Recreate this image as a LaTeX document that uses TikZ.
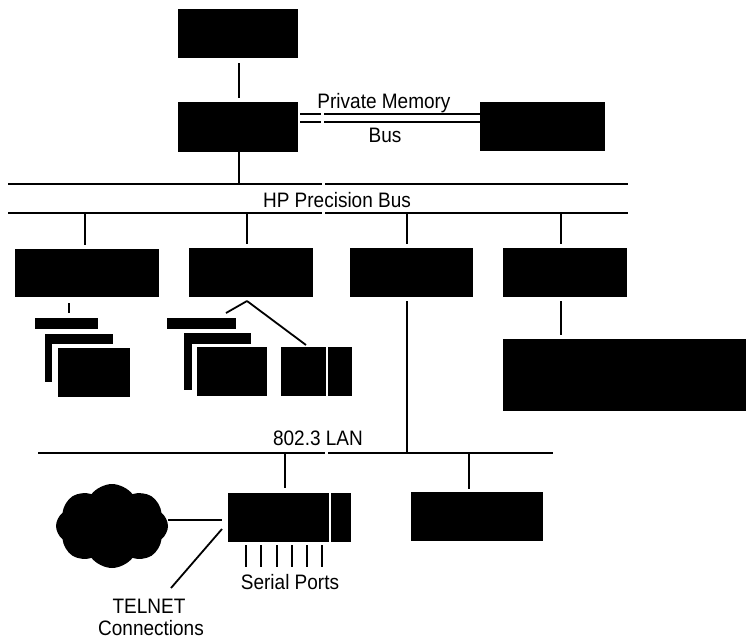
\documentclass[tikz,border=0pt]{standalone}
\usepackage{fontspec}
\setmainfont{Liberation Sans}
\usetikzlibrary{shapes.symbols}
\newcommand{\mybox}[5]{\node[blk, minimum width={#4-#2}, minimum height={#5-#3}] (#1) at ({(#2+#4)/2},{(#3+#5)/2}) {};}
\newcommand{\tl}[1]{\scalebox{1}[1.1]{#1}}
\begin{document}
\begin{tikzpicture}[x=1pt,y=-1pt,
  blk/.style={fill=black, draw=none, inner sep=0pt, outer sep=0pt},
  wire/.style={line width=1.8pt},
  busline/.style={line width=2.6pt},
  lbl/.style={font=\fontsize{19}{21}\selectfont, inner sep=0pt, anchor=base}]
\useasboundingbox (0,0) rectangle (746,638);
% top boxes
\mybox{top}{178}{9}{298}{58}
\mybox{cpu}{178}{102}{298}{152}
\mybox{mem}{480}{102}{605}{151}
% row boxes
\mybox{A}{15}{249}{159}{297}
\mybox{B}{189}{248}{313}{297}
\mybox{C}{350}{248}{473}{297}
\mybox{D}{503}{248}{627}{297}
\mybox{big}{503}{339}{746}{411}
% stack under A
\mybox{Aa}{35}{318}{98}{329}
\mybox{Ab}{45}{334}{113}{344}
\mybox{Abl}{45}{344}{52}{382}
\mybox{Ac}{58}{348}{130}{397}
% stack under B
\mybox{Ba}{167}{318}{236}{329}
\mybox{Bb}{184}{333}{251}{344}
\mybox{Bbl}{184}{344}{192}{390}
\mybox{Bc}{197}{347}{267}{396}
\mybox{Bd}{281}{347}{352}{396}
\draw[white, line width=1.5pt] (327,347) -- (327,396);
% lower boxes
\mybox{E}{228}{493}{351}{542}
\draw[white, line width=1.5pt] (330,493) -- (330,542);
\mybox{F}{411}{492}{543}{541}
\node[cloud, cloud puffs=8, cloud puff arc=105, aspect=1.3, fill=black, draw=none,
  minimum width=112, minimum height=84, inner sep=0pt] (net) at (112,526) {};
% coordinates for buses
\coordinate (hb1) at (8,184);   \coordinate (hb2) at (628,184);
\coordinate (lb1) at (8,213);   \coordinate (lb2) at (628,213);
\coordinate (lan1) at (38,453); \coordinate (lan2) at (553,453);
% buses (with paste-up seams)
\draw[busline] (hb1) -- (322,184);  \draw[busline] (325,184) -- (hb2);
\draw[busline] (lb1) -- (322,213);  \draw[busline] (325,213) -- (lb2);
\draw[busline] (lan1) -- (325,453); \draw[busline] (328,453) -- (lan2);
% private memory bus (double line)
\draw[wire] (cpu.east |- 0,114) ++(2,0) -- (321,114);
\draw[wire] (324,114) -- (mem.west |- 0,114) ++(-4,0);
\draw[wire] (cpu.east |- 0,122) ++(2,0) -- (321,122);
\draw[wire] (324,122) -- (mem.west |- 0,122) ++(-4,0);
% vertical connectors
\draw[wire] ([yshift=-5]top.south -| 239,0) -- ([yshift=4]cpu.north -| 239,0);
\draw[wire] (cpu.south -| 239,0) -- (hb2 -| 239,0);
\draw[wire] (lb1 -| 85,0) -- ([yshift=4]A.north -| 85,0);
\draw[wire] (lb1 -| 247,0) -- ([yshift=4]B.north -| 247,0);
\draw[wire] (lb1 -| 407,0) -- ([yshift=4]C.north -| 407,0);
\draw[wire] (lb1 -| 561,0) -- ([yshift=4]D.north -| 561,0);
\draw[wire] ([yshift=-6]A.south -| 69,0) -- ([yshift=5]Aa.north -| 69,0);
\coordinate (apex) at (247,301);
\draw[wire] (apex) -- (226,313);
\draw[wire] (apex) -- ([xshift=-1,yshift=2]Bd.north -| 307,0);
\draw[wire] ([yshift=-4]C.south -| 407,0) -- (lan1 -| 407,0);
\draw[wire] ([yshift=-4]D.south -| 561,0) -- ([yshift=4]big.north -| 561,0);
\draw[wire] (lan1 -| 285,0) -- ([yshift=5]E.north -| 285,0);
\draw[wire] (lan1 -| 469,0) -- ([yshift=3]F.north -| 469,0);
% cloud and telnet
\draw[wire] (168,520) -- ([xshift=-6]E.west |- 0,520);
\coordinate (tn) at (171,588);
\draw[wire] ([xshift=-6]E.west |- 0,529) -- (tn);
% serial ports
\foreach \px in {246,261,277,292,307,322}
  \draw[wire] (\px,545) -- (\px,567);
% labels
\node[lbl] (pm) at (384,108) {\tl{Private Memory}};
\node[lbl] (pmb) at (385,142) {\tl{Bus}};
\node[lbl] (hp) at (337,207) {\tl{HP Precision Bus}};
\node[lbl] (lan) at (318,445) {\tl{802.3 LAN}};
\node[lbl] (sp) at (290,589) {\tl{Serial Ports}};
\node[lbl] (tel) at (149,613) {\tl{TELNET}};
\node[lbl] (con) at (151,635) {\tl{Connections}};
\end{tikzpicture}
\end{document}
